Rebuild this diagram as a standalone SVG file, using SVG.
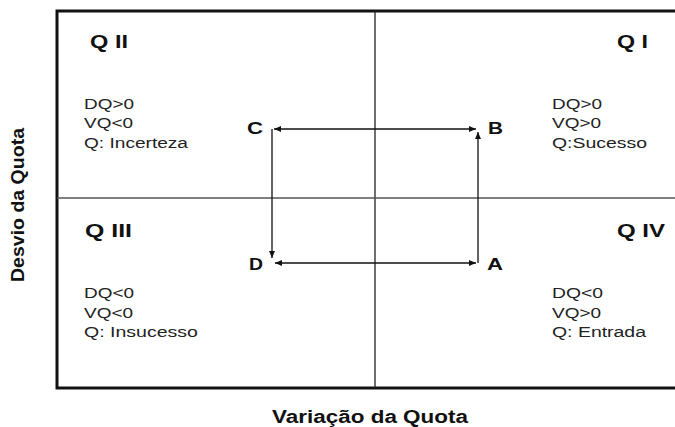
<svg xmlns="http://www.w3.org/2000/svg" width="675" height="427" viewBox="0 0 675 427">
<defs>
<marker id="ah" markerUnits="userSpaceOnUse" markerWidth="8" markerHeight="7" refX="7" refY="3" orient="auto-start-reverse">
<path d="M0,0 L7,3 L0,6 z" fill="#111"/>
</marker>
<style>
.t{font-family:"Liberation Sans",Arial,sans-serif;font-weight:bold;font-size:18px;fill:#111}
.b{font-family:"Liberation Sans",Arial,sans-serif;font-size:15.5px;fill:#222}
.l{font-family:"Liberation Sans",Arial,sans-serif;font-weight:bold;font-size:17px;fill:#111}
.c{stroke:#111;stroke-width:1.3;fill:none}
</style>
</defs>
<rect width="675" height="427" fill="#fff"/>
<g id="frame">
<rect x="57" y="11" width="621" height="377" fill="none" stroke="#111" stroke-width="3"/>
<line x1="375" y1="11" x2="375" y2="388" stroke="#222" stroke-width="1.3"/>
<line x1="57" y1="198" x2="675" y2="198" stroke="#555" stroke-width="1.3"/>
</g>
<g id="axis-labels">
<text class="t" x="272" y="423" textLength="196" lengthAdjust="spacingAndGlyphs">Variação da Quota</text>
<text class="t" x="0" y="0" transform="translate(24 282) rotate(-90)" textLength="154" lengthAdjust="spacingAndGlyphs">Desvio da Quota</text>
</g>
<g id="q2">
<text class="t" x="90" y="48" textLength="38" lengthAdjust="spacingAndGlyphs">Q II</text>
<text class="b" x="84" y="109" textLength="50" lengthAdjust="spacingAndGlyphs">DQ&gt;0</text>
<text class="b" x="84" y="128" textLength="49" lengthAdjust="spacingAndGlyphs">VQ&lt;0</text>
<text class="b" x="84" y="148" textLength="104" lengthAdjust="spacingAndGlyphs">Q: Incerteza</text>
</g>
<g id="q1">
<text class="t" x="617" y="48" textLength="31" lengthAdjust="spacingAndGlyphs">Q I</text>
<text class="b" x="552" y="109" textLength="50" lengthAdjust="spacingAndGlyphs">DQ&gt;0</text>
<text class="b" x="552" y="128" textLength="49" lengthAdjust="spacingAndGlyphs">VQ&gt;0</text>
<text class="b" x="552" y="148" textLength="95" lengthAdjust="spacingAndGlyphs">Q:Sucesso</text>
</g>
<g id="q3">
<text class="t" x="85" y="237" textLength="47" lengthAdjust="spacingAndGlyphs">Q III</text>
<text class="b" x="84" y="298" textLength="50" lengthAdjust="spacingAndGlyphs">DQ&lt;0</text>
<text class="b" x="84" y="318" textLength="49" lengthAdjust="spacingAndGlyphs">VQ&lt;0</text>
<text class="b" x="84" y="337" textLength="114" lengthAdjust="spacingAndGlyphs">Q: Insucesso</text>
</g>
<g id="q4">
<text class="t" x="617" y="237" textLength="48" lengthAdjust="spacingAndGlyphs">Q IV</text>
<text class="b" x="552" y="298" textLength="51" lengthAdjust="spacingAndGlyphs">DQ&lt;0</text>
<text class="b" x="552" y="318" textLength="49" lengthAdjust="spacingAndGlyphs">VQ&gt;0</text>
<text class="b" x="552" y="337" textLength="94" lengthAdjust="spacingAndGlyphs">Q: Entrada</text>
</g>
<g id="pointC"><text class="l" x="247" y="134" textLength="16" lengthAdjust="spacingAndGlyphs">C</text></g>
<g id="pointB"><text class="l" x="488" y="134" textLength="15" lengthAdjust="spacingAndGlyphs">B</text></g>
<g id="pointD"><text class="l" x="249" y="270" textLength="14" lengthAdjust="spacingAndGlyphs">D</text></g>
<g id="pointA"><text class="l" x="487" y="270" textLength="16" lengthAdjust="spacingAndGlyphs">A</text></g>
<g id="connectors">
<line class="c" x1="274" y1="129" x2="476" y2="129" marker-start="url(#ah)" marker-end="url(#ah)"/>
<line class="c" x1="272" y1="129" x2="272" y2="258" marker-end="url(#ah)"/>
<line class="c" x1="275" y1="263" x2="476" y2="263" marker-start="url(#ah)" marker-end="url(#ah)"/>
<line class="c" x1="478" y1="263" x2="478" y2="132" marker-end="url(#ah)"/>
</g>
</svg>
